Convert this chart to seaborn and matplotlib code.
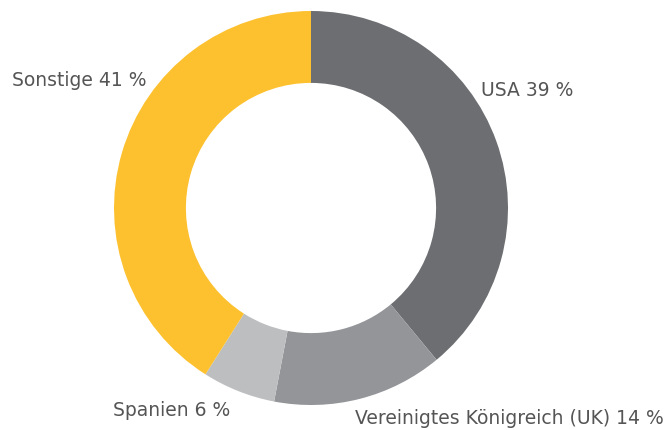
import matplotlib
matplotlib.use("Agg")
import matplotlib.pyplot as plt
import seaborn as sns

categories = ["USA", "Vereinigtes Königreich (UK)", "Spanien", "Sonstige"]
values = [39, 14, 6, 41]
colors = ["#6d6e71", "#939598", "#bcbec0", "#fdc12f"]
labels = [f"{c} {v} %" for c, v in zip(categories, values)]
# label anchor positions in figure pixels (x, y from top), and alignment
label_pos = [(481, 90, "left"), (355, 419, "left"), (113, 410, "left"), (146, 80, "right")]

sns.set_theme(style="white")
plt.rcParams["font.family"] = ["DejaVu Sans"]

W, H = 671, 430
fig = plt.figure(figsize=(W / 100, H / 100), dpi=100)
cx, cy, r = 311, 208, 197
ax = fig.add_axes([(cx - r) / W, (H - cy - r) / H, 2 * r / W, 2 * r / H])
ax.pie(values, colors=colors, startangle=90, counterclock=False, radius=1,
       wedgeprops=dict(width=0.365, linewidth=0))
ax.set_xlim(-1, 1)
ax.set_ylim(-1, 1)
ax.set_aspect("equal")
ax.axis("off")

for lab, (x, y, ha) in zip(labels, label_pos):
    fig.text(x / W, 1 - y / H, lab, ha=ha, va="center", fontsize=13.5, color="#555555")

fig.savefig("out.png", dpi=100)
